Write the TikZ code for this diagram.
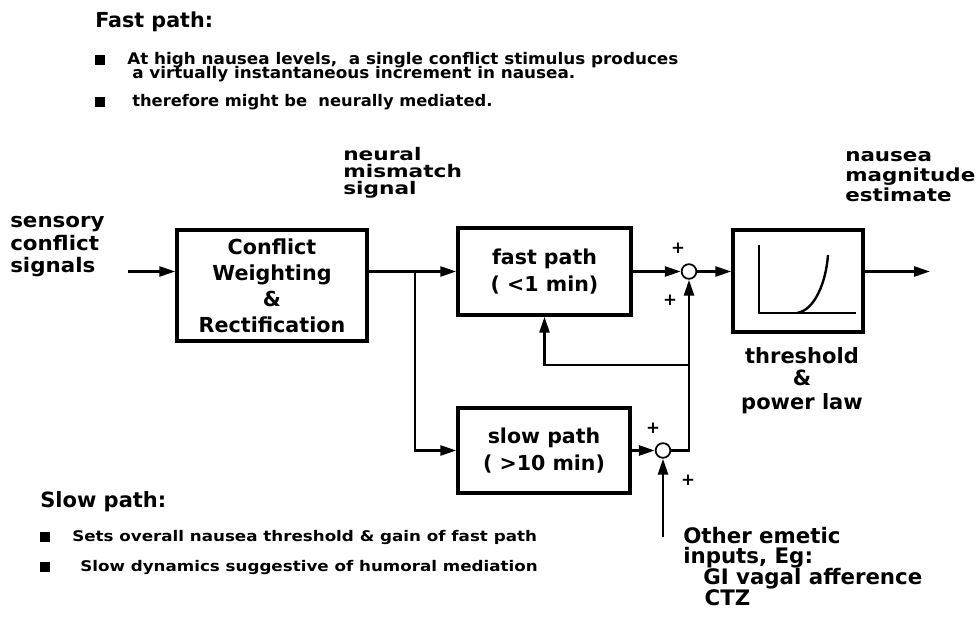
\documentclass[tikz,border=0pt]{standalone}
\usepackage{fontspec}
\usepackage{graphicx}
\setmainfont{DejaVu Sans}
\usetikzlibrary{arrows.meta}
\newcommand{\fsz}[2]{\fontsize{#1pt}{#2pt}\selectfont\lineskiplimit=-30pt\relax}
\newcommand{\hstr}[2]{\scalebox{#1}[1]{#2}}
\begin{document}
\begin{tikzpicture}[x=0.75pt,y=-0.75pt,
  box/.style={draw, line width=2.6pt, inner sep=0pt, font=\bfseries\fsz{15.4}{20}, align=center},
  conn/.style={line width=2pt},
  arr/.style={conn, -{Triangle[length=12pt,width=7.5pt]}},
  sumc/.style={circle, draw, line width=1.3pt, minimum size=11pt, inner sep=0pt},
  lbl/.style={inner sep=0pt, align=left, anchor=base west},
  bul/.style={fill, minimum size=7.5pt, inner sep=0pt},
  plus/.style={inner sep=0pt, font=\bfseries\fsz{12.5}{12.5}}]
\useasboundingbox (0,0) rectangle (976,624);

% --- notes: fast path
\node[lbl, font=\bfseries\fsz{15.5}{15.5}] (tfast) at (95,28) {Fast path:};
\node[bul] (b1) at (100,60) {};
\node[lbl, font=\bfseries\fsz{12}{10.5}] (tf1) at (127,79) {\hstr{1.05}{At high nausea levels,\ \ a single conflict stimulus produces}\\\hspace*{3.75pt}\hstr{1.05}{a virtually instantaneous increment in nausea.}};
\node[bul] (b2) at (100,102) {};
\node[lbl, font=\bfseries\fsz{12}{10.5}] (tf2) at (132,107) {\hstr{1.02}{therefore might be\ \ neurally mediated.}};

% --- notes: slow path
\node[lbl, font=\bfseries\fsz{15.75}{15.75}] (tslow) at (40,507) {Slow path:};
\node[bul] (b3) at (45,537) {};
\node[lbl, font=\bfseries\fsz{11}{11}] (ts1) at (72,541) {\hstr{1.14}{Sets overall nausea threshold \& gain of fast path}};
\node[bul] (b4) at (45,567) {};
\node[lbl, font=\bfseries\fsz{11}{11}] (ts2) at (80,571) {\hstr{1.14}{Slow dynamics suggestive of humoral mediation}};

% --- labels
\node[lbl, font=\bfseries\fsz{15}{16.9}] (sens) at (10,273) {\hstr{1.07}{sensory}\\\hstr{1.07}{conflict}\\\hstr{1.07}{signals}};
\node[lbl, font=\bfseries\fsz{13}{12.75}] (neur) at (343,195) {\hstr{1.25}{neural}\\\hstr{1.25}{mismatch}\\\hstr{1.25}{signal}};
\node[lbl, font=\bfseries\fsz{13.5}{15}] (naus) at (845,202) {\hstr{1.19}{nausea}\\\hstr{1.19}{magnitude}\\\hstr{1.19}{estimate}};
\node[inner sep=0pt, align=center, anchor=base, font=\bfseries\fsz{15.75}{17.25}] (thl) at (802,409) {threshold\\\&\\power law};
\node[lbl, font=\bfseries\fsz{16}{15.5}] (oth) at (683,605) {Other emetic\\inputs, Eg:\\\hspace*{15pt}GI vagal afference\\\hspace*{16pt}CTZ};

% --- blocks
\node[box, minimum width=142.5pt, minimum height=83.25pt, font=\bfseries\fsz{15.5}{19.5}] (cw) at (272,285.5) {Conflict\\Weighting\\\&\\Rectification};
\node[box, minimum width=129.75pt, minimum height=65.25pt] (fast) at (544.5,271.5) {fast path\\( <1 min)};
\node[box, minimum width=129pt, minimum height=63.75pt] (slow) at (544,450.5) {slow path\\( >10 min)};
\node[box, minimum width=97.5pt, minimum height=76.5pt] (th) at (798,281) {};
\node[sumc] (s1) at (689,271.5) {};
\node[sumc] (s2) at (663,450.5) {};

% threshold curve
\draw[line width=2pt] (759,245) -- (759,313) -- (856,313);
\draw[line width=1.8pt] (797,313) .. controls (815,310) and (826,282) .. (828,255);

% plus signs
\node[plus] (p1) at (678,248) {+};
\node[plus] (p2) at (670,300) {+};
\node[plus] (p3) at (653,428) {+};
\node[plus] (p4) at (688,480) {+};

% --- connectors
\coordinate (inp) at (128,271.5);
\coordinate (br) at (415,271.5);
\coordinate (outp) at (930,271.5);
\coordinate (cr) at (689,450.5);
\coordinate (fb) at (689,365);
\coordinate (othc) at (663,537);

\draw[arr] (inp) -- (inp -| cw.west);
\draw[arr] (fast.west -| cw.east) -- (fast.west);
\draw[arr] (br) |- (slow.west);
\draw[arr] (fast.east) -- (s1.west);
\draw[arr] (s1.east) -- (s1.east -| th.west);
\draw[arr] (s1.east -| th.east) -- (outp);
\draw[arr] (slow.east) -- (s2.west);
\draw[arr] (s2.east) -- (cr) -- (s1.south);
\draw[arr] (fb) -| (fast.south);
\draw[arr] (othc) -- (s2.south);
\end{tikzpicture}
\end{document}
